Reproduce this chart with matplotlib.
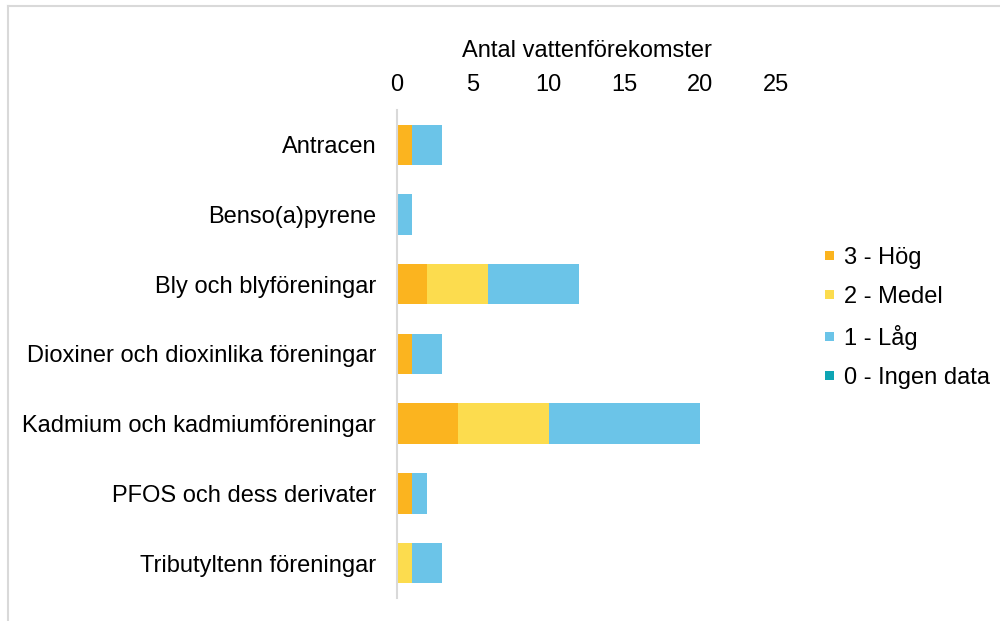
import matplotlib
matplotlib.use("Agg")
import matplotlib.pyplot as plt
from matplotlib.patches import Patch
from matplotlib.lines import Line2D
import numpy as np

plt.rcParams['font.family'] = ['Liberation Sans', 'DejaVu Sans']

categories = ["Antracen", "Benso(a)pyrene", "Bly och blyföreningar",
              "Dioxiner och dioxinlika föreningar", "Kadmium och kadmiumföreningar",
              "PFOS och dess derivater", "Tributyltenn föreningar"]
series_names = ["3 - Hög", "2 - Medel", "1 - Låg", "0 - Ingen data"]
hog = [1, 0, 2, 1, 4, 1, 0]
medel = [0, 0, 4, 0, 6, 0, 1]
lag = [2, 1, 6, 2, 10, 1, 2]
ingen = [0, 0, 0, 0, 0, 0, 0]
colors = ["#FBB41F", "#FCDC4E", "#6BC4E8", "#0EA5B4"]
xticks = [0, 5, 10, 15, 20, 25]
xlabel = "Antal vattenförekomster"

fig = plt.figure(figsize=(10, 6.21), dpi=100)
ax = fig.add_axes([0.397, 0.037, 0.379, 0.786])

y = np.arange(len(categories))
left = np.zeros(len(categories))
for vals, c, name in zip([hog, medel, lag, ingen], colors, series_names):
    ax.barh(y, vals, left=left, color=c, height=0.58, label=name)
    left += np.array(vals)

ax.set_ylim(len(categories) - 0.5, -0.5)
ax.set_xlim(0, 25)
ax.set_yticks(y)
ax.set_yticklabels(categories, fontsize=17)
ax.xaxis.tick_top()
ax.xaxis.set_label_position('top')
ax.set_xticks(xticks)
ax.set_xticklabels([str(t) for t in xticks], fontsize=17)
ax.tick_params(axis='x', length=0, pad=10)
ax.tick_params(axis='y', length=0, pad=15)
ax.set_xlabel(xlabel, fontsize=17, labelpad=12.5)
for s in ['top', 'right', 'bottom']:
    ax.spines[s].set_visible(False)
ax.spines['left'].set_color('#d9d9d9')
ax.spines['left'].set_linewidth(1.5)

handles = [Patch(facecolor=c, edgecolor='none') for c in colors]
fig.legend(handles, series_names, loc='center left', bbox_to_anchor=(0.825, 0.488),
           frameon=False, fontsize=17, handlelength=0.4, handleheight=0.22,
           handletextpad=0.4, labelspacing=0.72, borderpad=0, borderaxespad=0)

# outer frame (partially visible)
fig.add_artist(Line2D([0.0075, 1.0], [1 - 5.5 / 621, 1 - 5.5 / 621], transform=fig.transFigure,
                      color='#d9d9d9', lw=1.5))
fig.add_artist(Line2D([0.0075, 0.0075], [0, 1 - 5.5 / 621], transform=fig.transFigure,
                      color='#d9d9d9', lw=1.5))

fig.savefig("out.png", dpi=100)
